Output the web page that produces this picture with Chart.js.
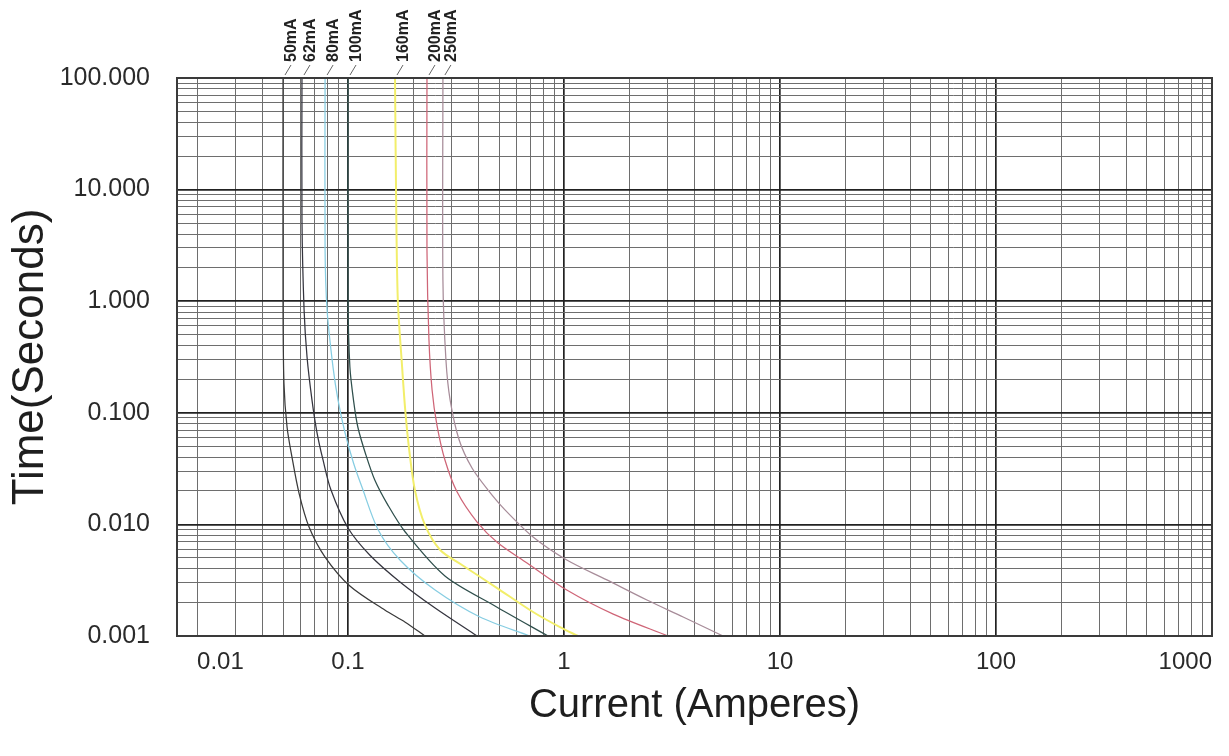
<!DOCTYPE html>
<html>
<head>
<meta charset="utf-8">
<title>Time-current curves</title>
<script src="https://cdn.jsdelivr.net/npm/chart.js@4.4.1/dist/chart.umd.min.js"></script>
<style>
  html, body { margin: 0; padding: 0; background: #fff; }
  #wrap { width: 1229px; height: 756px; }
</style>
</head>
<body>
<div id="wrap"><canvas id="tcc" width="1229" height="756"></canvas></div>
<script>
// fuse ratings, one curve each (current in A, melting time in s)
const RATINGS = ['50mA', '62mA', '80mA', '100mA', '160mA', '200mA', '250mA'];
const COLORS  = ['#3a3a3a', '#34343e', '#86cde2', '#2f4f4c', '#f2ee6a', '#cf6577', '#a78c99'];

const I_50  = [0.0500, 0.0500, 0.0505, 0.0522, 0.0550, 0.0593, 0.0660, 0.0783, 0.102, 0.148, 0.184, 0.227];
const T_50  = [100, 1.03, 0.185, 0.0746, 0.0402, 0.0191, 0.00948, 0.00510, 0.00281, 0.00171, 0.00133, 0.001];

const I_62  = [0.0612, 0.0612, 0.0626, 0.0646, 0.0681, 0.0719, 0.0766, 0.0834, 0.100, 0.126, 0.174, 0.253, 0.396];
const T_62  = [100, 5.34, 0.834, 0.316, 0.130, 0.0659, 0.0378, 0.0203, 0.00928, 0.00532, 0.00305, 0.00178, 0.001];

const I_80  = [0.0783, 0.0783, 0.0800, 0.0852, 0.0899, 0.0969, 0.106, 0.116, 0.138, 0.174, 0.253, 0.408, 0.696];
const T_80  = [100, 2.88, 0.834, 0.257, 0.130, 0.0659, 0.0355, 0.0216, 0.00891, 0.00480, 0.00258, 0.00148, 0.001];

const I_100 = [0.100, 0.100, 0.102, 0.106, 0.111, 0.121, 0.133, 0.153, 0.184, 0.281, 0.479, 0.843];
const T_100 = [100, 1.03, 0.257, 0.130, 0.0746, 0.0419, 0.0250, 0.0149, 0.00855, 0.00345, 0.00186, 0.001];

const I_160 = [0.165, 0.167, 0.170, 0.178, 0.184, 0.192, 0.204, 0.227, 0.267, 0.337, 0.490, 0.719, 0.958, 1.16];
const T_160 = [100, 8.07, 1.03, 0.257, 0.106, 0.0464, 0.0203, 0.00988, 0.00590, 0.00433, 0.00269, 0.00164, 0.00120, 0.001];

const I_200 = [0.232, 0.232, 0.237, 0.245, 0.258, 0.281, 0.320, 0.396, 0.495, 0.674, 1.03, 1.69, 3.03];
const T_200 = [100, 2.88, 0.449, 0.160, 0.0777, 0.0378, 0.0195, 0.0105, 0.00681, 0.00451, 0.00258, 0.00157, 0.001];

const I_250 = [0.275, 0.275, 0.284, 0.297, 0.327, 0.375, 0.445, 0.533, 0.719, 1.03, 1.58, 2.42, 3.56, 5.45];
const T_250 = [100, 1.55, 0.297, 0.130, 0.0571, 0.0320, 0.0203, 0.0135, 0.00771, 0.00480, 0.00318, 0.00210, 0.00148, 0.001];

const CURRENTS = [I_50, I_62, I_80, I_100, I_160, I_200, I_250];
const TIMES    = [T_50, T_62, T_80, T_100, T_160, T_200, T_250];

// axis range of the printed grid
const X_MIN = 0.01615, X_MAX = 1000;
const Y_MIN = 0.001,   Y_MAX = 100;

// grid lines: 1..9 x each decade
const X_GRID = [0.02, 0.03, 0.04, 0.05, 0.06, 0.07, 0.08, 0.09,
  0.1, 0.2, 0.3, 0.4, 0.5, 0.6, 0.7, 0.8, 0.9,
  1, 2, 3, 4, 5, 6, 7, 8, 9,
  10, 20, 30, 40, 50, 60, 70, 80, 90,
  100, 200, 300, 400, 500, 600, 700, 800, 900, 1000];
const Y_GRID = [0.001, 0.002, 0.003, 0.004, 0.005, 0.006, 0.007, 0.008, 0.009,
  0.01, 0.02, 0.03, 0.04, 0.05, 0.06, 0.07, 0.08, 0.09,
  0.1, 0.2, 0.3, 0.4, 0.5, 0.6, 0.7, 0.8, 0.9,
  1, 2, 3, 4, 5, 6, 7, 8, 9,
  10, 20, 30, 40, 50, 60, 70, 80, 90, 100];

// printed labels; the sheet puts "0.01" under its first grid line
const X_TICK_AT   = [0.02, 0.1, 1, 10, 100, 1000];
const X_TICK_TEXT = ['0.01', '0.1', '1', '10', '100', '1000'];
const Y_TICK_AT   = [0.001, 0.01, 0.1, 1, 10, 100];
const Y_TICK_TEXT = ['0.001', '0.010', '0.100', '1.000', '10.000', '100.000'];

const FONT = '"Liberation Sans", Arial, Helvetica, sans-serif';

const isDecade = v => v != null && Math.abs(Math.log10(v) - Math.round(Math.log10(v))) < 1e-6;
const near = (a, b) => Math.abs(a - b) / b < 1e-6;

function labelFor(v, at, text) {
  const i = at.findIndex(t => near(v, t));
  return i >= 0 ? text[i] : '';
}

const gridColor = ctx => isDecade(ctx.tick && ctx.tick.value) ? '#222' : '#6e6e6e';
const gridWidth = ctx => isDecade(ctx.tick && ctx.tick.value) ? 1.7 : 1;

// frame round the plot
const framePlugin = {
  id: 'frame',
  afterDatasetsDraw(c) {
    const { ctx, chartArea: a } = c;
    ctx.save();
    ctx.strokeStyle = '#3a3a3a';
    ctx.lineWidth = 2;
    ctx.strokeRect(a.left, a.top, a.right - a.left, a.bottom - a.top);
    ctx.restore();
  }
};

// rating tags with a short leader, above the top of each curve
const ratingTags = {
  id: 'ratingTags',
  afterDraw(c) {
    const { ctx, chartArea: a, scales: { x } } = c;
    ctx.save();
    ctx.font = 'bold 16px ' + FONT;
    ctx.fillStyle = '#222';
    ctx.strokeStyle = '#666';
    ctx.lineWidth = 1;
    c.data.datasets.forEach(ds => {
      const px = x.getPixelForValue(ds.data[0].x);
      ctx.beginPath();
      ctx.moveTo(px + 2, a.top - 3);
      ctx.lineTo(px + 8, a.top - 13);
      ctx.stroke();
      ctx.save();
      ctx.translate(px + 9, a.top - 16);
      ctx.rotate(-Math.PI / 2);
      ctx.textAlign = 'left';
      ctx.textBaseline = 'middle';
      ctx.fillText(ds.label, 0, 0);
      ctx.restore();
    });
    ctx.restore();
  }
};

const datasets = RATINGS.map((name, k) => ({
  label: name,
  data: CURRENTS[k].map((v, i) => ({ x: v, y: TIMES[k][i] })),
  borderColor: COLORS[k],
  borderWidth: name === '160mA' ? 2 : 1.25,
  pointRadius: 0,
  tension: 0.3,
  fill: false
}));

new Chart(document.getElementById('tcc'), {
  type: 'line',
  data: { datasets },
  options: {
    responsive: false,
    animation: false,
    layout: { autoPadding: false, padding: { top: 78, right: 17, left: 0, bottom: 0 } },
    plugins: { legend: { display: false }, tooltip: { enabled: false } },
    scales: {
      x: {
        type: 'logarithmic',
        min: X_MIN, max: X_MAX,
        afterBuildTicks: s => { s.ticks = X_GRID.map(v => ({ value: v })); },
        afterFit: s => { s.height = 120; },
        ticks: {
          autoSkip: false, maxRotation: 0, align: 'inner', padding: 12,
          color: '#2a2a2a', font: { family: FONT, size: 24 },
          callback: v => labelFor(v, X_TICK_AT, X_TICK_TEXT)
        },
        grid: { drawTicks: false, color: gridColor, lineWidth: gridWidth },
        border: { display: false },
        title: {
          display: true, text: 'Current (Amperes)', color: '#1e1e1e',
          font: { family: FONT, size: 40 }, padding: { top: 0, bottom: 26 }
        }
      },
      y: {
        type: 'logarithmic',
        min: Y_MIN, max: Y_MAX,
        afterBuildTicks: s => { s.ticks = Y_GRID.map(v => ({ value: v })); },
        afterFit: s => { s.width = 177; },
        ticks: {
          autoSkip: false, padding: 27,
          color: '#2a2a2a', font: { family: FONT, size: 25 },
          callback: v => labelFor(v, Y_TICK_AT, Y_TICK_TEXT)
        },
        grid: { drawTicks: false, color: gridColor, lineWidth: gridWidth },
        border: { display: false },
        title: {
          display: true, text: 'Time(Seconds)', color: '#1e1e1e',
          font: { family: FONT, size: 44 }, padding: { top: 4, bottom: 0 }
        }
      }
    }
  },
  plugins: [framePlugin, ratingTags]
});
</script>
</body>
</html>
